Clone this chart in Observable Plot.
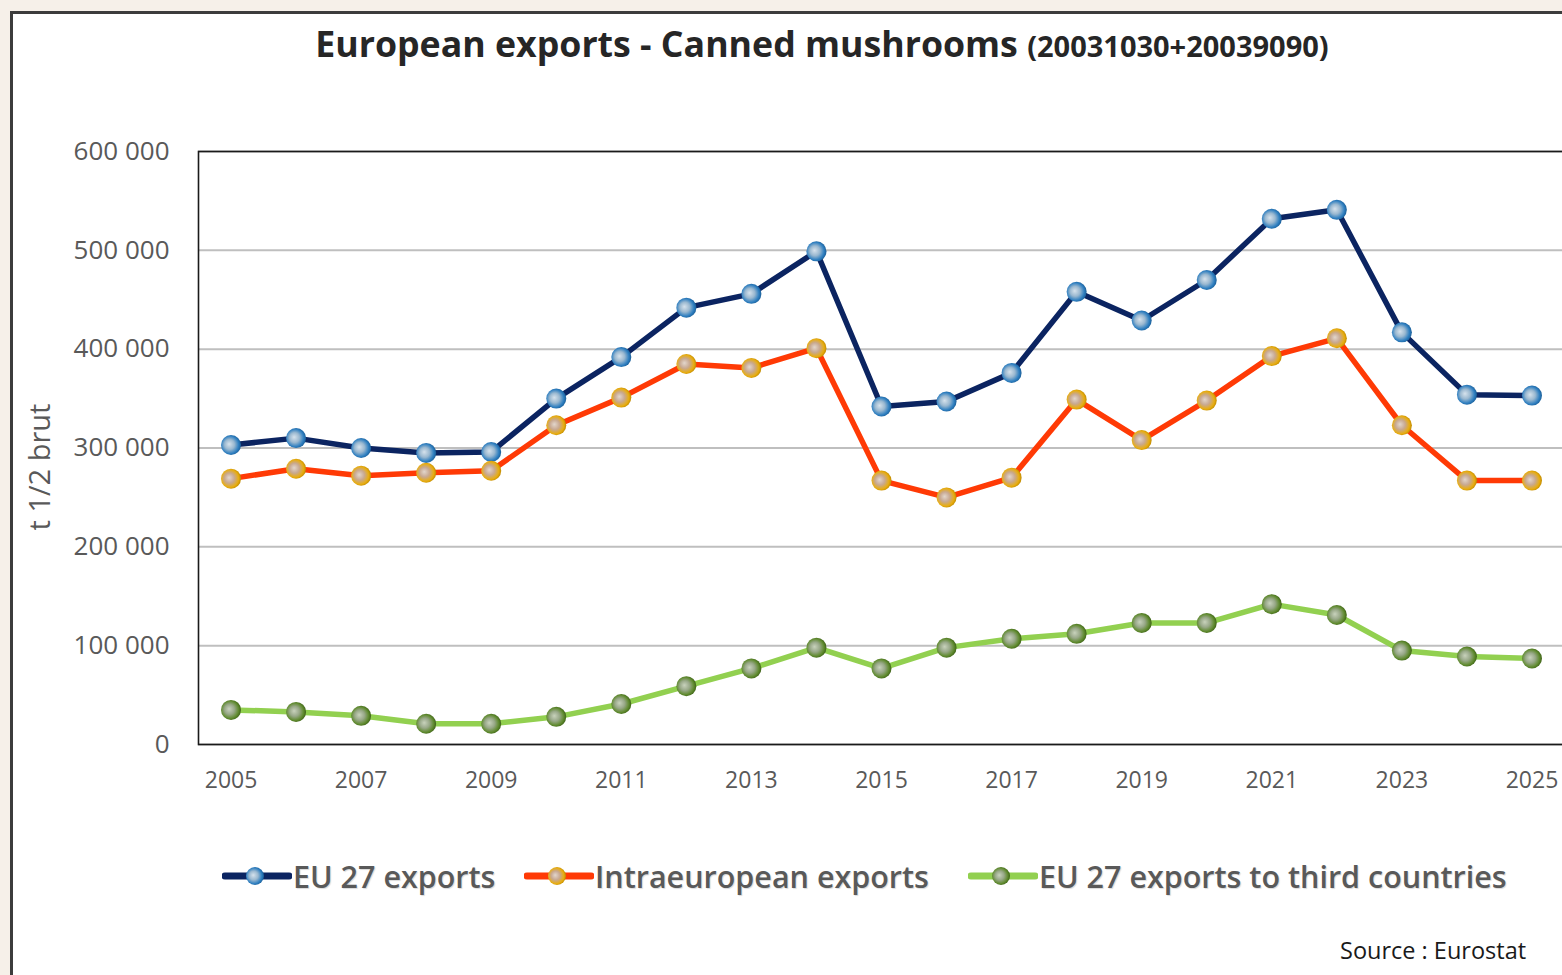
<!DOCTYPE html>
<html>
<head>
<meta charset="utf-8">
<script src="https://cdn.jsdelivr.net/npm/d3@7"></script>
<script src="https://cdn.jsdelivr.net/npm/@observablehq/plot@0.6"></script>
<style>
  html, body { margin: 0; padding: 0; width: 1562px; height: 975px; overflow: hidden; background: #f6f0e9; font-family: "Open Sans", sans-serif; }
  #frame { position: absolute; left: 10px; top: 11px; width: 1600px; height: 1000px; border: 3px solid #3c3c3c; background: #fff; box-sizing: border-box; }
  #chart { position: absolute; left: 0; top: 0; width: 1600px; }
  #chart svg { max-width: none; }
  #title { position: absolute; left: 0; width: 1644px; top: 19px; text-align: center; font-weight: 700; color: #262626; font-size: 35.7px; white-space: nowrap; }
  #title small { font-size: 29px; }
  #ylabel { position: absolute; left: 38px; top: 467px; transform: translate(-50%, -50%) rotate(-90deg); font-size: 29px; color: #595959; white-space: nowrap; }
  #legend { position: absolute; top: 851px; left: 0; height: 50px; }
  .item { position: absolute; top: 0; display: flex; align-items: center; white-space: nowrap; font-weight: 600; font-size: 30.5px; color: #595959; text-shadow: 1px 1px 1px rgba(0,0,0,0.15); }
  #source { position: absolute; left: 1340px; top: 934px; font-size: 23.5px; color: #1a1a1a; white-space: nowrap; }
</style>
</head>
<body>
<div id="frame"></div>
<div id="chart"></div>
<div id="title">European exports - Canned mushrooms <small>(20031030+20039090)</small></div>
<div id="ylabel">t 1/2 brut</div>
<div id="legend"></div>
<div id="source">Source : Eurostat</div>
<script>
const years = [2005,2006,2007,2008,2009,2010,2011,2012,2013,2014,2015,2016,2017,2018,2019,2020,2021,2022,2023,2024,2025];
const eu27Exports = [303000,310000,300000,295000,296000,350000,392000,442000,456000,499000,342000,347000,376000,458000,429000,470000,532000,541000,417000,354000,353000];
const intraExports = [269000,279000,272000,275000,277000,323000,351000,385000,381000,401000,267000,250000,270000,349000,308000,348000,393000,411000,323000,267000,267000];
const thirdExports = [35000,33000,29000,21000,21000,28000,41000,59000,77000,98000,77000,98000,107000,112000,123000,123000,142000,131000,95000,89000,87000];
const yTicks = [0,100000,200000,300000,400000,500000,600000];
const xTicks = [2005,2007,2009,2011,2013,2015,2017,2019,2021,2023,2025];
const seriesNames = ["EU 27 exports", "Intraeuropean exports", "EU 27 exports to third countries"];
const seriesColors = ["#0b2461", "#ff3a05", "#92d050"];
const seriesGrads = ["gBlue", "gGold", "gGreen"];
const seriesValues = [eu27Exports, intraExports, thirdExports];

const tables = seriesValues.map(vals => years.map((y, i) => ({year: y, value: vals[i]})));
const fmt = v => d3.format(",")(v).replace(/,/g, " ");

const marks = [
  Plot.gridY(yTicks, {stroke: "#bfbfbf", strokeWidth: 2, strokeOpacity: 1}),
  Plot.axisY(yTicks, {tickSize: 0, tickPadding: 29, tickFormat: fmt, fontSize: 26, fill: "#595959", label: null}),
  Plot.axisX(xTicks, {tickSize: 0, tickPadding: 27, tickFormat: d => String(d), fontSize: 23, fill: "#595959", label: null}),
  Plot.frame({stroke: "#1a1a1a", strokeWidth: 1.6})
];
tables.forEach((t, k) => {
  marks.push(Plot.line(t, {x: "year", y: "value", stroke: seriesColors[k], strokeWidth: 5.5, strokeLinejoin: "round", strokeLinecap: "round"}));
});
tables.forEach((t, k) => {
  marks.push(Plot.dot(t, {x: "year", y: "value", r: 10, fill: `url(#${seriesGrads[k]})`, stroke: "none"}));
});

const chart = Plot.plot({
  width: 1600,
  height: 804,
  marginLeft: 198,
  marginRight: 36,
  marginTop: 151,
  marginBottom: 60,
  style: {fontFamily: "'Open Sans', sans-serif", background: "transparent", overflow: "visible", maxWidth: "none"},
  x: {domain: [2004.5, 2025.5], axis: null},
  y: {domain: [0, 600000], axis: null},
  marks
});

const gradDefs = `
<radialGradient id="gBlue" cx="0.45" cy="0.5" r="0.55" fx="0.4" fy="0.45">
  <stop offset="0" stop-color="#d6e2ec"/><stop offset="0.45" stop-color="#9ab8d0"/><stop offset="0.8" stop-color="#2f7fc0"/><stop offset="1" stop-color="#1a5e98"/>
</radialGradient>
<radialGradient id="gGold" cx="0.45" cy="0.5" r="0.55" fx="0.4" fy="0.45">
  <stop offset="0" stop-color="#e2d6cc"/><stop offset="0.45" stop-color="#c8a890"/><stop offset="0.8" stop-color="#e8ad10"/><stop offset="1" stop-color="#c08a00"/>
</radialGradient>
<radialGradient id="gGreen" cx="0.45" cy="0.5" r="0.55" fx="0.4" fy="0.45">
  <stop offset="0" stop-color="#c8d2bc"/><stop offset="0.45" stop-color="#98a888"/><stop offset="0.8" stop-color="#5f8a2e"/><stop offset="1" stop-color="#3e6218"/>
</radialGradient>`;
const defs = document.createElementNS("http://www.w3.org/2000/svg", "defs");
defs.innerHTML = gradDefs;
chart.insertBefore(defs, chart.firstChild);
document.getElementById("chart").appendChild(chart);

// legend
const legendPos = [222, 524, 968];
const legend = document.getElementById("legend");
seriesNames.forEach((name, k) => {
  const item = document.createElement("div");
  item.className = "item";
  item.style.left = legendPos[k] + "px";
  item.innerHTML = `<svg width="70" height="50" style="margin-right:1px"><line x1="3" x2="67" y1="25" y2="25" stroke="${seriesColors[k]}" stroke-width="7" stroke-linecap="round"/><circle cx="33" cy="25" r="9" fill="url(#${seriesGrads[k]})"/></svg><span>${name}</span>`;
  legend.appendChild(item);
});
</script>
</body>
</html>
